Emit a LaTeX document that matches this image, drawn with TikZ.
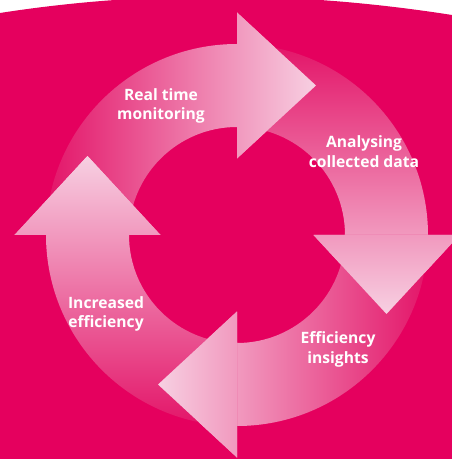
\documentclass[tikz,border=0pt]{standalone}
\usepackage{fontspec}
\setmainfont{Open Sans}
\usepackage{tikz}
\usetikzlibrary{calc}
\definecolor{cycle_bg}{RGB}{229,0,94}
\definecolor{cycle_dark}{RGB}{227,20,104}
\definecolor{cycle_light}{RGB}{247,208,226}
\tikzset{
  %----------------%
  %   Background   %
  %----------------%
  back_fill/.style={fill=cycle_bg},
  %----------------%
  %  Cycle arrows  %
  %----------------%
  % Top arrow: dark on the left, light at the head
  shade_top/.style={left color=cycle_dark, right color=cycle_light},
  % Right arrow: dark at the top, light at the head
  shade_right/.style={top color=cycle_dark, bottom color=cycle_light},
  % Bottom arrow: dark on the right, light at the head
  shade_bottom/.style={right color=cycle_dark, left color=cycle_light},
  % Left arrow: dark at the bottom, light at the head
  shade_left/.style={bottom color=cycle_dark, top color=cycle_light},
  %----------------%
  %     Labels     %
  %----------------%
  box_label/.style={
    text=white,
    align=center,
    inner sep=0pt,
    font=\fontsize{8.9}{11.3}\selectfont\bfseries
  },
}
% Quarter ring with its head, head at angle #1
\newcommand{\arrowpath}[1]{%
  (#1+90:191) arc[start angle=#1+90, end angle=#1, radius=191]
  -- (#1:222.5) -- (#1-27.85:169.1) -- (#1:76.5) -- (#1:108)
  arc[start angle=#1, end angle=#1+90, radius=108] -- cycle}
% Head alone again, so that it lies over the next tail
\newcommand{\arrowtip}[2]{%
  \begin{scope}
    \clip (#1:222.5) -- (#1-27.85:169.1) -- (#1:76.5) -- cycle;
    \shade[#2] \arrowpath{#1};
  \end{scope}}

\begin{document}
\begin{tikzpicture}[x=0.02cm, y=0.02cm]
    \useasboundingbox (-237,-224) rectangle (215,235);
    %--------------%
    %  Background  %
    %--------------%
    \fill[white] (-237,-224) rectangle (215,235);
    \fill[back_fill] (-237,-224) -- (-237,222) .. controls (-89,245) and (62,244) .. (215,220) -- (215,-224) -- cycle;

    %----------%
    %  Arrows  %
    %----------%
    % Real time monitoring
    \shade[shade_top] \arrowpath{90};
    % Analysing collected data
    \shade[shade_right] \arrowpath{0};
    % Efficiency insights
    \shade[shade_bottom] \arrowpath{-90};
    % Increased efficiency
    \shade[shade_left] \arrowpath{180};

    % Heads over the tails
    \arrowtip{90}{shade_top}
    \arrowtip{0}{shade_right}
    \arrowtip{-90}{shade_bottom}
    \arrowtip{180}{shade_left}

    %----------%
    %  Labels  %
    %----------%
    \node (monitoring) [box_label] at (-76,129) {Real time\\monitoring};
    \node (analysing) [box_label] at (127,83) {Analysing\\collected data};
    \node (insights) [box_label] at (101,-114) {Efficiency\\insights};
    \node (increased) [box_label] at (-131,-79) {Increased\\efficiency};
\end{tikzpicture}
\end{document}
